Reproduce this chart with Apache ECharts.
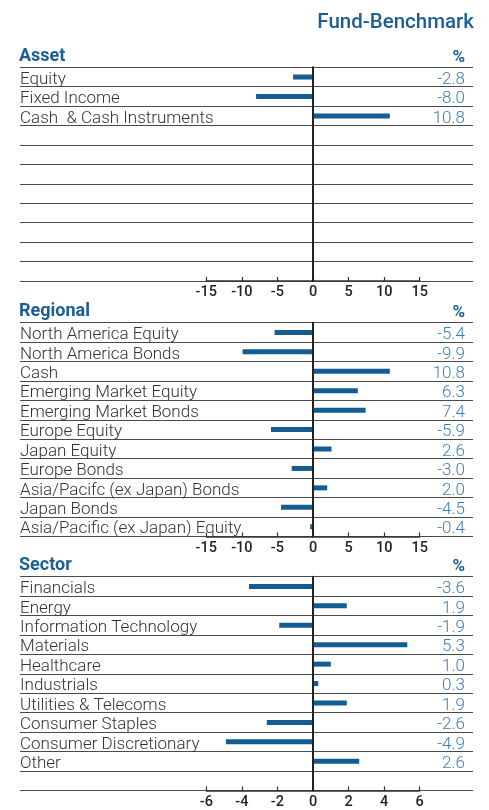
<!DOCTYPE html>
<html><head><meta charset="utf-8">
<script src="https://cdn.jsdelivr.net/npm/echarts@6/dist/echarts.min.js"></script>
<style>html,body{margin:0;padding:0;background:#fff}#c{width:489px;height:810px}</style>
</head><body><div id="c"></div>
<script>
// ---- data ----
const assetNames = ['Equity', 'Fixed Income', 'Cash  & Cash Instruments'];
const assetValues = [-2.8, -8.0, 10.8];
const regionalNames = ['North America Equity', 'North America Bonds', 'Cash', 'Emerging Market Equity', 'Emerging Market Bonds', 'Europe Equity', 'Japan Equity', 'Europe Bonds', 'Asia/Pacifc (ex Japan) Bonds', 'Japan Bonds', 'Asia/Pacific (ex Japan) Equity'];
const regionalValues = [-5.4, -9.9, 10.8, 6.3, 7.4, -5.9, 2.6, -3.0, 2.0, -4.5, -0.4];
const sectorNames = ['Financials', 'Energy', 'Information Technology', 'Materials', 'Healthcare', 'Industrials', 'Utilities & Telecoms', 'Consumer Staples', 'Consumer Discretionary', 'Other'];
const sectorValues = [-3.6, 1.9, -1.9, 5.3, 1.0, 0.3, 1.9, -2.6, -4.9, 2.6];

const ROWS = 11;
const FONT = 'Roboto';
const BLUE = '#1b5e95';
const BAR = '#135c94';
const VAL = '#3f7db8';
const LINE = '#4a4a4a';

const panels = [
  {title: 'Asset', names: assetNames, values: assetValues, top: 67.3, min: -15, max: 15, step: 5},
  {title: 'Regional', names: regionalNames, values: regionalValues, top: 322.7, min: -15, max: 15, step: 5},
  {title: 'Sector', names: sectorNames, values: sectorValues, top: 576.7, min: -6, max: 6, step: 2}
];
const rowH = 19.43;
const gridH = rowH * ROWS;
const fullL = 20, fullR = 473;      // row lines span
const axL = 206.3, axR = 419.7;     // visible axis span

const grid = [], xAxis = [], yAxis = [], series = [], title = [];
title.push({text: 'Fund-Benchmark', right: 489 - 474, top: 12, padding: 0,
  textStyle: {fontFamily: FONT, fontSize: 20.5, fontWeight: 500, color: BLUE}});

panels.forEach((p, k) => {
  const cats = [];
  for (let i = 0; i < ROWS; i++) cats.push(String(i));
  const pxPerUnit = (axR - axL) / (p.max - p.min);
  const zeroX = axL + (0 - p.min) * pxPerUnit;
  const fmin = -(zeroX - fullL) / pxPerUnit;
  const fmax = (fullR - zeroX) / pxPerUnit;

  title.push({text: p.title, left: 19, top: p.top - 20, padding: 0,
    textStyle: {fontFamily: FONT, fontSize: 18, fontWeight: 'bold', color: BLUE}});
  title.push({text: '%', right: 489 - 465, top: p.top - 18, padding: 0,
    textStyle: {fontFamily: FONT, fontSize: 17, fontWeight: 'bold', color: BLUE}});

  // full-width grid: rows, labels, bars
  const g1 = grid.length;
  grid.push({left: fullL, width: fullR - fullL, top: p.top, height: gridH, containLabel: false});
  xAxis.push({gridIndex: g1, type: 'value', min: fmin, max: fmax, show: false});
  const yLeft = yAxis.length;
  yAxis.push({gridIndex: g1, type: 'category', data: cats, inverse: true, position: 'left',
    axisLine: {show: false}, axisTick: {show: false, interval: 0},
    splitLine: {show: true, interval: 0, lineStyle: {color: LINE, width: 1}},
    axisLabel: {interval: 0, inside: true, margin: 0, align: 'left', verticalAlign: 'middle',
      rich: {t: {fontFamily: FONT, fontWeight: 300, fontSize: 17, color: '#333', padding: [5, 0, 0, 0]}},
      formatter: (v, i) => (p.names[i] ? '{t|' + p.names[i] + '}' : '')}});
  yAxis.push({gridIndex: g1, type: 'category', data: cats, inverse: true, position: 'right',
    axisLine: {show: false}, axisTick: {show: false}, splitLine: {show: false},
    axisLabel: {interval: 0, inside: true, margin: 8, align: 'right', verticalAlign: 'middle',
      rich: {t: {fontFamily: FONT, fontWeight: 300, fontSize: 17, color: VAL, padding: [5, 0, 0, 0]}},
      formatter: (v, i) => (i < p.values.length ? '{t|' + p.values[i].toFixed(1) + '}' : '')}});
  series.push({type: 'bar', xAxisIndex: xAxis.length - 1, yAxisIndex: yLeft,
    data: p.values, barWidth: 5, itemStyle: {color: BAR}, silent: true, animation: false});

  // axis grid: ticks, labels, zero line
  const g2 = grid.length;
  grid.push({left: axL, width: axR - axL, top: p.top, height: gridH});
  xAxis.push({gridIndex: g2, type: 'value', min: p.min, max: p.max, interval: p.step, position: 'bottom',
    axisLine: {show: true, onZero: false, lineStyle: {color: '#333', width: 1.5}},
    axisTick: {show: true, inside: true, length: 4, lineStyle: {color: '#333', width: 1.2}},
    splitLine: {show: false},
    axisLabel: {margin: 4, fontFamily: FONT, fontSize: 14.5, fontWeight: 500, color: '#222'}, z: 5});
  yAxis.push({gridIndex: g2, type: 'value', min: 0, max: 1, show: true,
    axisLine: {show: true, onZero: true, lineStyle: {color: '#222', width: 2}},
    axisTick: {show: false}, axisLabel: {show: false}, splitLine: {show: false}, z: 6});
});

const chart = echarts.init(document.getElementById('c'), null, {renderer: 'canvas'});
chart.setOption({animation: false, title, grid, xAxis, yAxis, series});
</script>
</body></html>
